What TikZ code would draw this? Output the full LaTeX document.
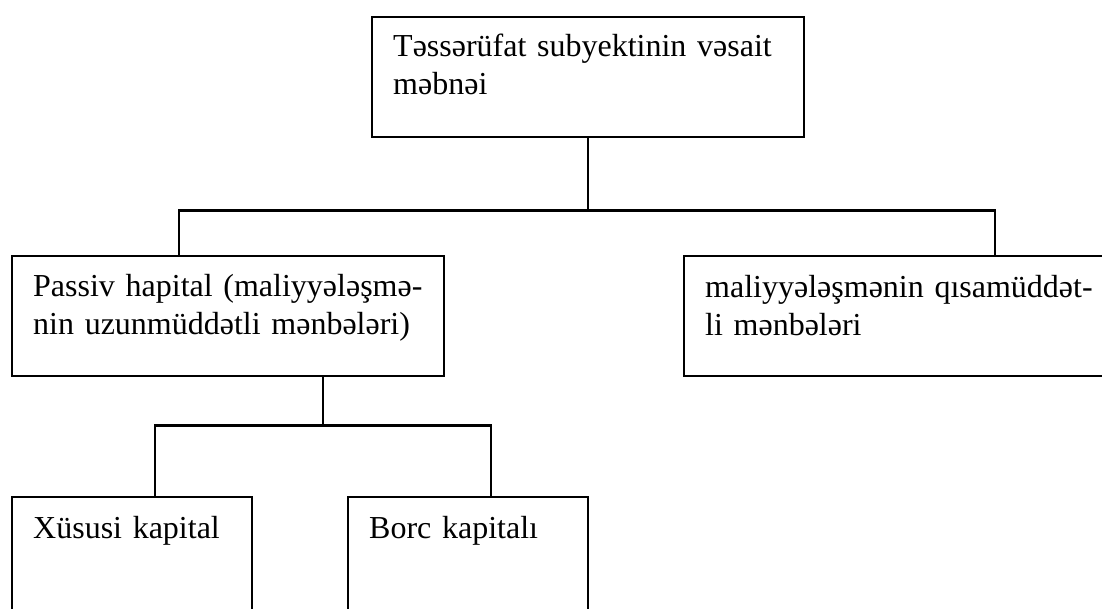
\documentclass[tikz,border=0pt]{standalone}
\usepackage{fontspec}
\setmainfont{Liberation Serif}
\usetikzlibrary{calc}
\begin{document}
\begin{tikzpicture}[x=1pt,y=1pt,
  every node/.style={font=\fontsize{32}{38.5}\selectfont},
  box/.style={draw, line width=2.4pt, rectangle, anchor=north west,
    inner xsep=21pt, inner ysep=0pt, align=left},
  wide/.style={box, text width=390pt},
  narrow/.style={box, text width=198pt},
  conn/.style={draw, line width=2.4pt}
]
\useasboundingbox (0,0) rectangle (1102,-608);
\clip (0,0) rectangle (1102,-608);

% top level
\node[wide, text height=39pt, text depth=81pt] (top) at (371,-16)
  {Təssərüfat subyektinin vəsait\\məbnəi};

% second level
\node[wide, text height=40pt, text depth=80pt] (long) at (11,-255)
  {Passiv hapital (maliyyələşmə-\\nin uzunmüddətli mənbələri)};
\node[wide, text height=41pt, text depth=79pt] (short) at (683,-255)
  {maliyyələşmənin qısamüddət-\\li mənbələri};

% third level
\node[narrow, text height=41pt, text depth=79pt] (own) at (11,-496)
  {Xüsusi kapital};
\node[narrow, text height=41pt, text depth=79pt] (debt) at (347,-496)
  {Borc kapitalı};

% attachment points on the box edges
\coordinate (longIn)  at ($(long.north west)+(168,0)$);
\coordinate (shortIn) at ($(short.north west)+(312,0)$);
\coordinate (longOut) at ($(long.south west)+(312,0)$);
\coordinate (ownIn)   at ($(own.north west)+(144,0)$);
\coordinate (debtIn)  at ($(debt.north west)+(144,0)$);

% connectors
\draw[conn] (top.south) -- ++(0,-72) coordinate (j1);
\draw[conn] (longIn) |- (j1) -| (shortIn);
\draw[conn] (longOut) -- ++(0,-48) coordinate (j2);
\draw[conn] (ownIn) |- (j2) -| (debtIn);
\end{tikzpicture}
\end{document}
